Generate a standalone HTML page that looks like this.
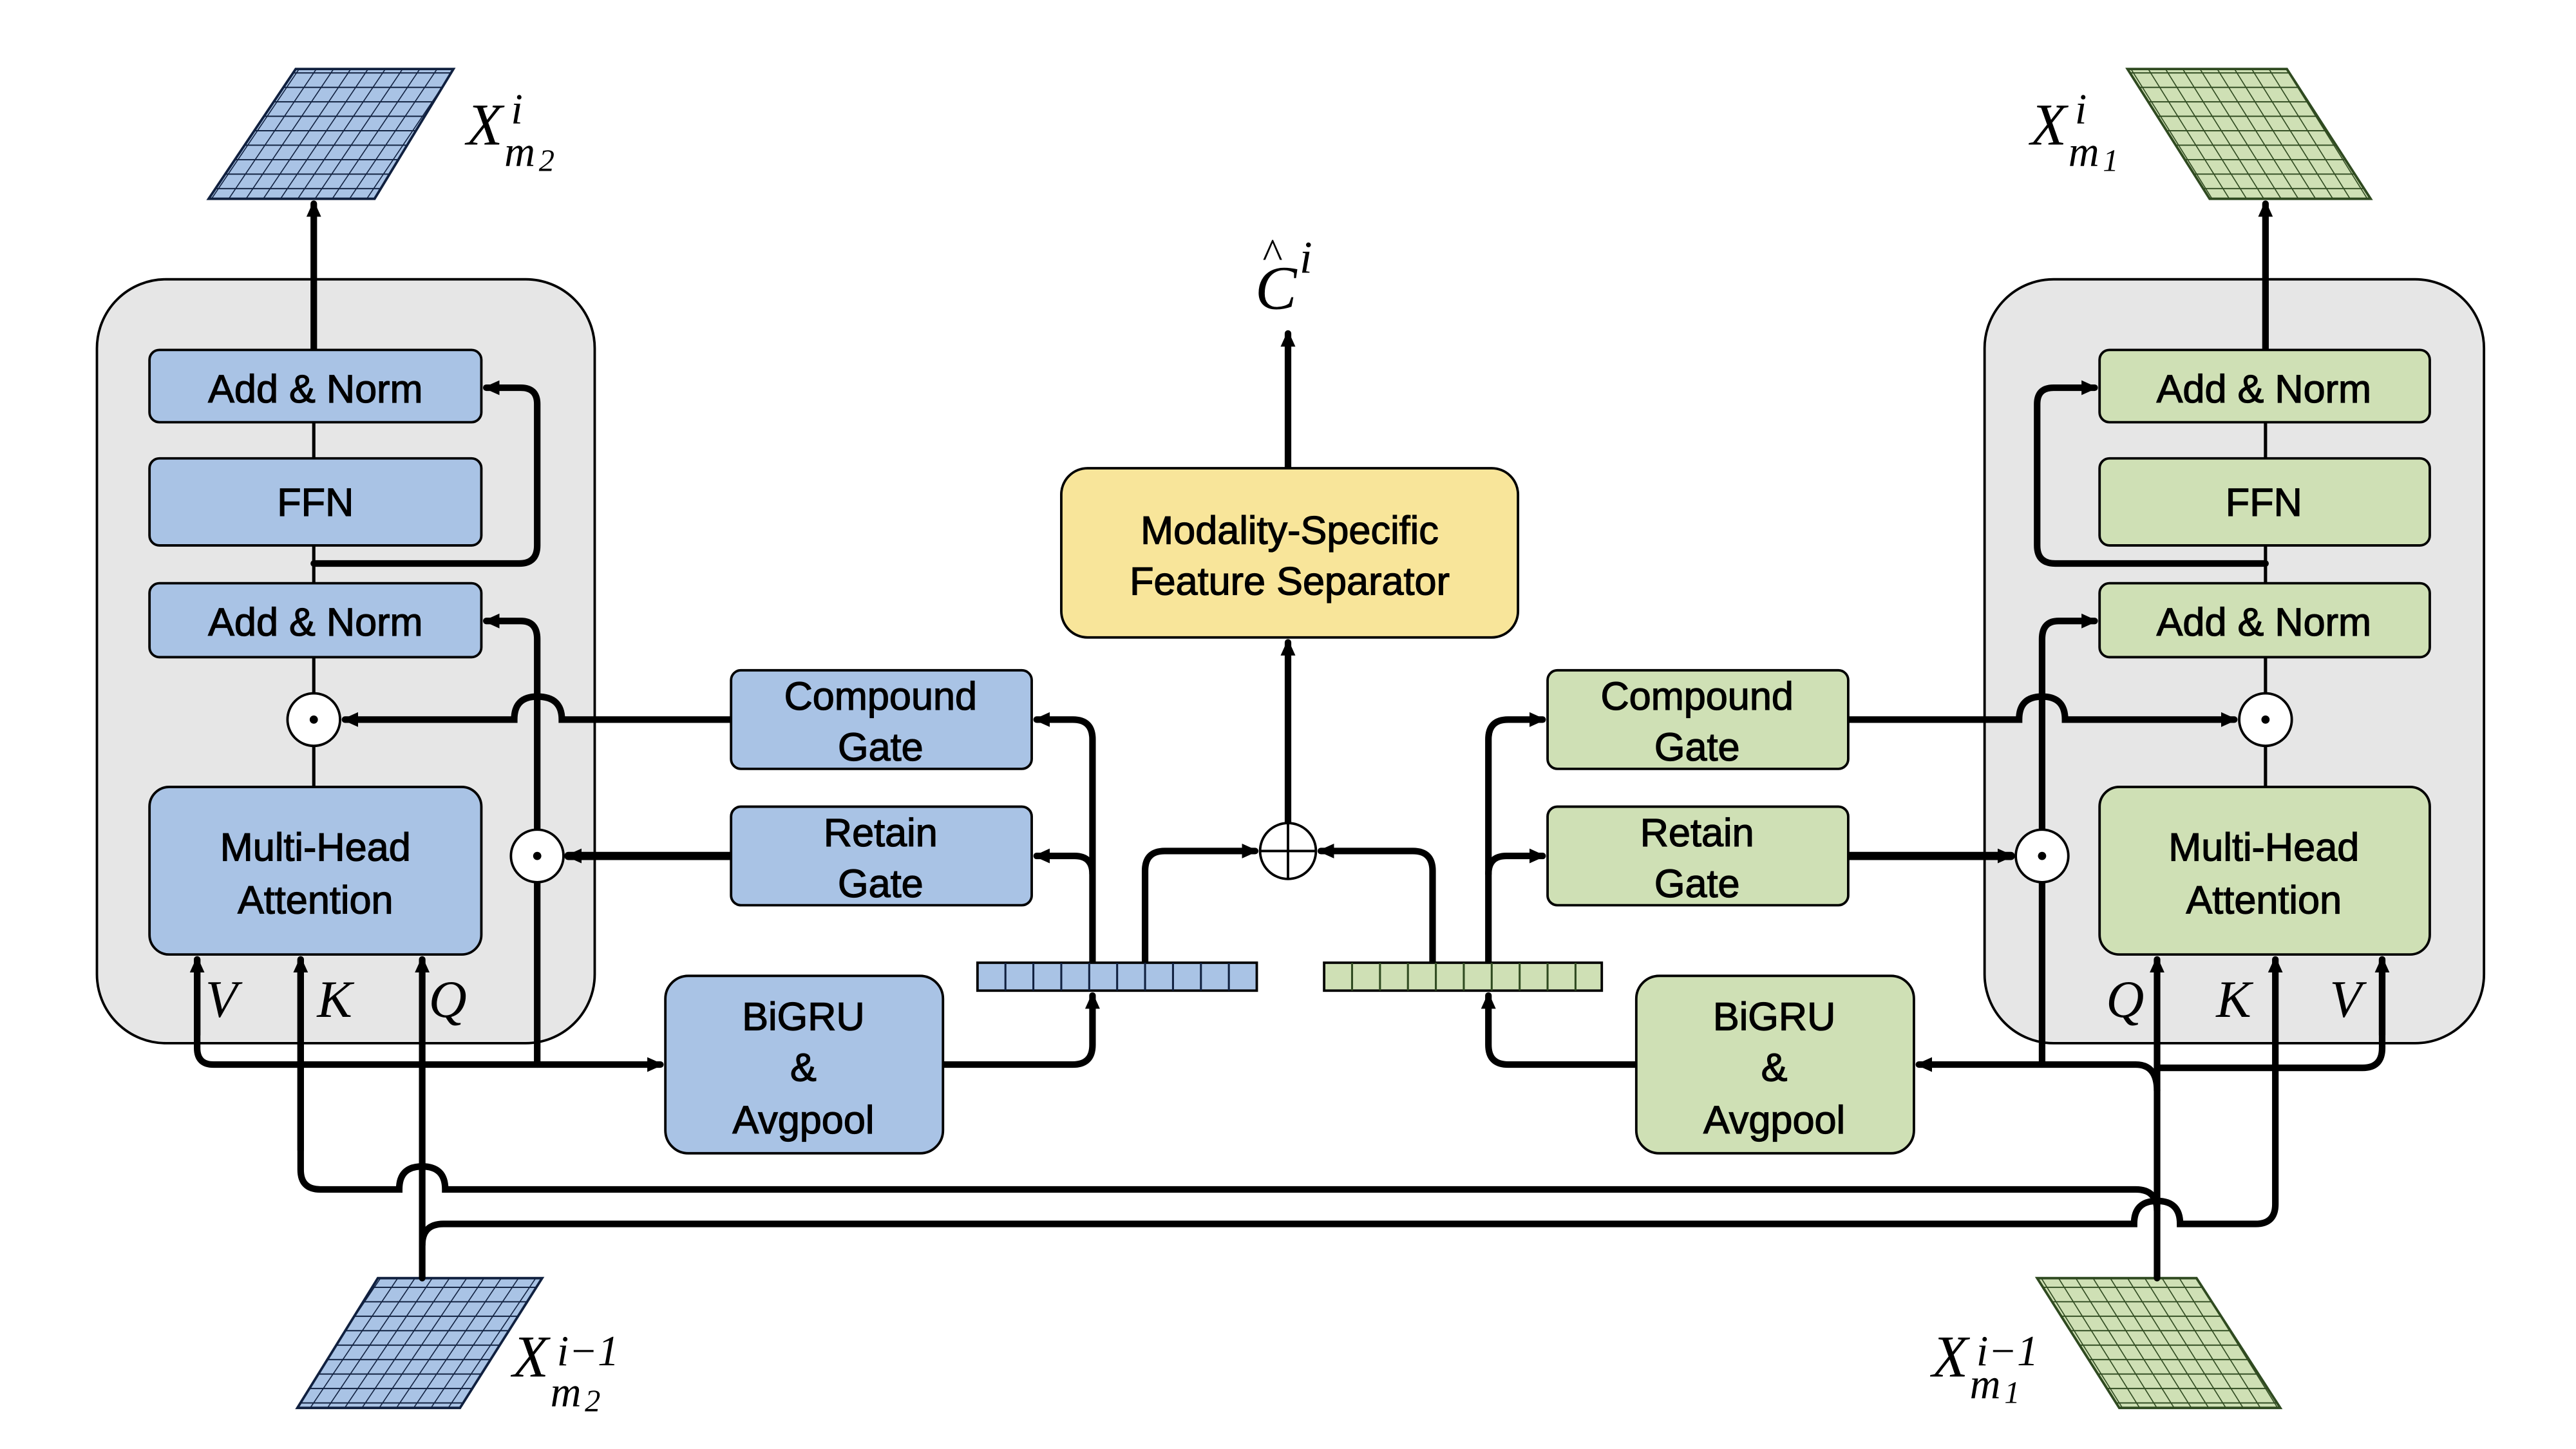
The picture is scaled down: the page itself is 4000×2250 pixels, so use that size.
<!DOCTYPE html>
<html><head><meta charset="utf-8"><style>
html,body{margin:0;padding:0;background:#fff}
svg{display:block}
.t{font-family:"Liberation Sans",sans-serif;font-size:24px;text-anchor:middle;fill:#000;stroke:#000;stroke-width:0.5}
.m{font-family:"Liberation Serif",serif;font-style:italic;fill:#000}
</style></head><body>
<svg width="4000" height="2250" viewBox="0 0 1568 882" preserveAspectRatio="none" xmlns="http://www.w3.org/2000/svg">
<defs>
<pattern id="gb" width="10.5" height="8.8" patternUnits="userSpaceOnUse" patternTransform="skewX(-34)">
<rect width="10.5" height="8.8" fill="#a9c3e5"/><path d="M0 0H10.5M0 0V8.8" stroke="#10203f" stroke-width="1.5"/></pattern>
<pattern id="gg" width="10.5" height="8.8" patternUnits="userSpaceOnUse" patternTransform="skewX(32)">
<rect width="10.5" height="8.8" fill="#cfe0b5"/><path d="M0 0H10.5M0 0V8.8" stroke="#2f4a20" stroke-width="1.5"/></pattern>
<marker id="a" markerWidth="10" markerHeight="10" refX="8" refY="5" orient="auto" markerUnits="userSpaceOnUse"><path d="M0 0.5L10 5L0 9.5z" fill="#000"/></marker>
</defs>

<rect x="59" y="170" width="303" height="465" rx="42" fill="#e6e6e6" stroke="#000" stroke-width="1.5"/>
<rect x="1208" y="170" width="304" height="465" rx="42" fill="#e6e6e6" stroke="#000" stroke-width="1.5"/>

<path d="M180 42H276L228 121H127Z" fill="url(#gb)" stroke="#10203f" stroke-width="1.5"/>
<path d="M230 778H330L280 857H181Z" fill="url(#gb)" stroke="#10203f" stroke-width="1.5"/>
<path d="M1295 42H1392L1443 121H1345Z" fill="url(#gg)" stroke="#2f4a20" stroke-width="1.5"/>
<path d="M1240 778H1337L1388 857H1290Z" fill="url(#gg)" stroke="#2f4a20" stroke-width="1.5"/>

<g fill="none" stroke="#000" stroke-linecap="round">
<path d="M191 257V279M191 332V355M191 400V422M191 454V479" stroke-width="2"/>
<path d="M1379 257V279M1379 332V355M1379 400V422M1379 454V479" stroke-width="2"/>
<path d="M191 213V124" stroke-width="4" marker-end="url(#a)"/>
<path d="M1379 213V124" stroke-width="4" marker-end="url(#a)"/>
<path d="M191 343H316Q327 343 327 332V246Q327 236 317 236H296" stroke-width="4" marker-end="url(#a)"/>
<path d="M327 648V389Q327 378 317 378H296" stroke-width="4" marker-end="url(#a)"/>
<path d="M1379 343H1251Q1240 343 1240 332V246Q1240 236 1250 236H1275" stroke-width="4" marker-end="url(#a)"/>
<path d="M1243 648V389Q1243 378 1253 378H1275" stroke-width="4" marker-end="url(#a)"/>
<path d="M445 438H342Q342 424 327 424Q313 424 313 438H210" stroke-width="4" marker-end="url(#a)"/>
<path d="M445 521H346" stroke-width="5" marker-end="url(#a)"/>
<path d="M1125 438H1229Q1229 424 1243 424Q1257 424 1257 438H1360" stroke-width="4" marker-end="url(#a)"/>
<path d="M1125 521H1224" stroke-width="5" marker-end="url(#a)"/>
<path d="M257 778V584" stroke-width="4" marker-end="url(#a)"/>
<path d="M120 584V638Q120 648 130 648H402" stroke-width="4" marker-end="url(#a)"/>
<path d="M120 630V584" stroke-width="4" marker-end="url(#a)"/>
<path d="M183 584V712Q183 724 195 724H243Q243 710 257 710Q271 710 271 724H1300Q1313 724 1313 737" stroke-width="4"/>
<path d="M183 700V584" stroke-width="4" marker-end="url(#a)"/>
<path d="M257 758Q257 745 270 745H1299Q1299 731 1313 731Q1327 731 1327 745H1373Q1385 745 1385 733V584" stroke-width="4" marker-end="url(#a)"/>
<path d="M1313 778V584" stroke-width="4" marker-end="url(#a)"/>
<path d="M1450 584V638Q1450 650 1438 650H1313" stroke-width="4"/>
<path d="M1450 630V584" stroke-width="4" marker-end="url(#a)"/>
<path d="M1313 664Q1313 648 1300 648H1168" stroke-width="4" marker-end="url(#a)"/>
<path d="M574 648H653Q665 648 665 636V606" stroke-width="4" marker-end="url(#a)"/>
<path d="M996 648H918Q906 648 906 636V606" stroke-width="4" marker-end="url(#a)"/>
<path d="M665 586V450Q665 438 653 438H631" stroke-width="4" marker-end="url(#a)"/>
<path d="M665 532Q665 521 654 521H631" stroke-width="4" marker-end="url(#a)"/>
<path d="M697 586V530Q697 518 709 518H764" stroke-width="4" marker-end="url(#a)"/>
<path d="M906 586V450Q906 438 918 438H939" stroke-width="4" marker-end="url(#a)"/>
<path d="M906 532Q906 521 917 521H939" stroke-width="4" marker-end="url(#a)"/>
<path d="M872 586V530Q872 518 860 518H804" stroke-width="4" marker-end="url(#a)"/>
<path d="M784 501V391" stroke-width="4" marker-end="url(#a)"/>
<path d="M784 285V203" stroke-width="4" marker-end="url(#a)"/>
</g>

<g stroke="#000" stroke-width="1.5">
<rect x="91" y="213" width="202" height="44" rx="6" fill="#a9c3e5"/>
<rect x="91" y="279" width="202" height="53" rx="6" fill="#a9c3e5"/>
<rect x="91" y="355" width="202" height="45" rx="6" fill="#a9c3e5"/>
<rect x="91" y="479" width="202" height="102" rx="12" fill="#a9c3e5"/>
<rect x="1278" y="213" width="201" height="44" rx="6" fill="#cfe0b5"/>
<rect x="1278" y="279" width="201" height="53" rx="6" fill="#cfe0b5"/>
<rect x="1278" y="355" width="201" height="45" rx="6" fill="#cfe0b5"/>
<rect x="1278" y="479" width="201" height="102" rx="12" fill="#cfe0b5"/>
<rect x="445" y="408" width="183" height="60" rx="6" fill="#a9c3e5"/>
<rect x="445" y="491" width="183" height="60" rx="6" fill="#a9c3e5"/>
<rect x="405" y="594" width="169" height="108" rx="14" fill="#a9c3e5"/>
<rect x="942" y="408" width="183" height="60" rx="6" fill="#cfe0b5"/>
<rect x="942" y="491" width="183" height="60" rx="6" fill="#cfe0b5"/>
<rect x="996" y="594" width="169" height="108" rx="14" fill="#cfe0b5"/>
<rect x="646" y="285" width="278" height="103" rx="16" fill="#f8e59a"/>
<rect x="595" y="586" width="170" height="17" fill="#a9c3e5"/>
<rect x="806" y="586" width="169" height="17" fill="#cfe0b5"/>
</g>
<g stroke="#10203f" stroke-width="1.2">
<path d="M612 586V603M629 586V603M646 586V603M663 586V603M680 586V603M697 586V603M714 586V603M731 586V603M748 586V603"/>
</g>
<g stroke="#2f4a20" stroke-width="1.2">
<path d="M823 586V603M840 586V603M857 586V603M874 586V603M891 586V603M908 586V603M925 586V603M942 586V603M959 586V603"/>
</g>

<g fill="#fff" stroke="#000" stroke-width="1.5">
<circle cx="191" cy="438" r="16"/><circle cx="327" cy="521" r="16"/>
<circle cx="1379" cy="438" r="16"/><circle cx="1243" cy="521" r="16"/>
<circle cx="784" cy="518" r="17"/>
</g>
<g fill="#000"><circle cx="191" cy="438" r="2.5"/><circle cx="327" cy="521" r="2.5"/><circle cx="1379" cy="438" r="2.5"/><circle cx="1243" cy="521" r="2.5"/></g>
<path d="M767 518H801M784 501V535" stroke="#000" stroke-width="1.5"/>

<text class="t" x="192" y="245">Add &amp; Norm</text>
<text class="t" x="192" y="314">FFN</text>
<text class="t" x="192" y="387">Add &amp; Norm</text>
<text class="t" x="192" y="524">Multi-Head</text>
<text class="t" x="192" y="556">Attention</text>
<text class="t" x="1378" y="245">Add &amp; Norm</text>
<text class="t" x="1378" y="314">FFN</text>
<text class="t" x="1378" y="387">Add &amp; Norm</text>
<text class="t" x="1378" y="524">Multi-Head</text>
<text class="t" x="1378" y="556">Attention</text>
<text class="t" x="536" y="432">Compound</text>
<text class="t" x="536" y="463">Gate</text>
<text class="t" x="536" y="515">Retain</text>
<text class="t" x="536" y="546">Gate</text>
<text class="t" x="1033" y="432">Compound</text>
<text class="t" x="1033" y="463">Gate</text>
<text class="t" x="1033" y="515">Retain</text>
<text class="t" x="1033" y="546">Gate</text>
<text class="t" x="489" y="627">BiGRU</text>
<text class="t" x="489" y="658">&amp;</text>
<text class="t" x="489" y="690">Avgpool</text>
<text class="t" x="1080" y="627">BiGRU</text>
<text class="t" x="1080" y="658">&amp;</text>
<text class="t" x="1080" y="690">Avgpool</text>
<text class="t" x="785" y="331">Modality-Specific</text>
<text class="t" x="785" y="362">Feature Separator</text>

<text class="m" x="125" y="619" font-size="32">V</text>
<text class="m" x="193" y="619" font-size="32">K</text>
<text class="m" x="261" y="619" font-size="32">Q</text>
<text class="m" x="1282" y="619" font-size="32">Q</text>
<text class="m" x="1349" y="619" font-size="32">K</text>
<text class="m" x="1418" y="619" font-size="32">V</text>

<text class="m" x="284" y="88" font-size="36">X</text>
<text class="m" x="311" y="75" font-size="26">i</text>
<text class="m" x="307" y="101" font-size="26">m</text><text class="m" x="328" y="104" font-size="19">2</text>

<text class="m" x="1236" y="88" font-size="36">X</text>
<text class="m" x="1263" y="75" font-size="26">i</text>
<text class="m" x="1259" y="101" font-size="26">m</text><text class="m" x="1280" y="104" font-size="19">1</text>

<text class="m" x="312" y="838" font-size="36">X</text>
<text class="m" x="339" y="831" font-size="26">i−1</text>
<text class="m" x="335" y="856" font-size="26">m</text><text class="m" x="356" y="859" font-size="19">2</text>

<text class="m" x="1176" y="838" font-size="36">X</text>
<text class="m" x="1203" y="831" font-size="26">i−1</text>
<text class="m" x="1199" y="851" font-size="26">m</text><text class="m" x="1220" y="854" font-size="19">1</text>

<text class="m" x="764" y="188" font-size="38">C</text>
<text class="m" x="768" y="163" font-size="26">^</text>
<text class="m" x="791" y="166" font-size="28">i</text>
</svg>
</body></html>
